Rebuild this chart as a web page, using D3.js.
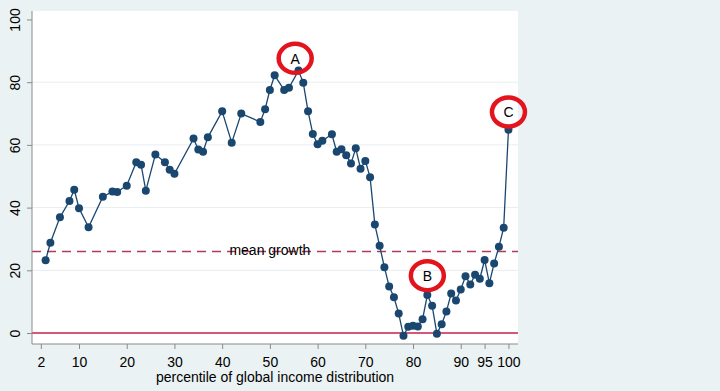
<!DOCTYPE html>
<html>
<head>
<meta charset="utf-8">
<script src="https://cdn.jsdelivr.net/npm/d3@7"></script>
<style>
	html, body { margin: 0; padding: 0; background: #eaf2f3; }
	svg { display: block; font-family: "Liberation Sans", Arial, sans-serif; }
</style>
</head>
<body>
<div class="chart"></div>
<script>
var percentiles = [3, 4, 6, 8, 9, 10, 12, 15, 17, 18, 20, 22, 23, 24, 26, 28, 29, 30, 34, 35, 36, 37, 40, 42, 44,
	48, 49, 50, 51, 53, 54, 56, 57, 58, 59, 60, 61, 63, 64, 65, 66, 67, 68, 69, 70, 71, 72, 73, 74, 75, 76, 77,
	78, 79, 80, 81, 82, 83, 84, 85, 86, 87, 88, 89, 90, 91, 92, 93, 94, 95, 96, 97, 98, 99, 100];
var growth = [23.2, 28.8, 36.9, 42.1, 45.7, 39.8, 33.7, 43.5, 45.1, 45.0, 47.0, 54.5, 53.7, 45.4, 56.9, 54.5, 52.1, 50.8, 62.0, 58.5, 57.8, 62.4, 70.7, 60.7, 70.0,
	67.3, 71.4, 77.5, 82.2, 77.5, 78.2, 83.7, 79.8, 70.7, 63.5, 60.2, 61.3, 63.4, 57.8, 58.6, 56.7, 54.1, 58.9, 52.4, 54.9, 49.7, 34.6, 27.8, 21.0, 14.8, 11.4, 6.2,
	-0.9, 2.0, 2.3, 2.1, 4.4, 12.1, 8.7, -0.2, 2.8, 6.9, 12.6, 10.4, 13.9, 18.1, 15.5, 18.6, 17.3, 23.3, 15.9, 22.2, 27.5, 33.6, 64.8];

var meanGrowth = 26;
var meanLabel = "mean growth";
var meanLabelX = 50;

// annotation letters and where their circles sit
var noteLabels = ["A", "B", "C"];
var noteX = [55.3, 83, 100];
var noteY = [87.6, 18.3, 70.5];

var xTicks = [2, 10, 20, 30, 40, 50, 60, 70, 80, 90, 95, 100];
var yTicks = [0, 20, 40, 60, 80, 100];
var yGrid = [20, 40, 60, 80];
var xTitle = "percentile of global income distribution";

var width = 720, height = 391;
var plot = { left: 32, right: 518, top: 11, bottom: 344 };
var fontSize = "14px";

var svg = d3.select(".chart")
	.append("svg")
	.attr("width", width)
	.attr("height", height);

// Outer background and white plot region
svg.append("rect")
	.attr("width", width)
	.attr("height", height)
	.attr("fill", "#eaf2f3");

svg.append("rect")
	.attr("x", plot.left)
	.attr("y", plot.top)
	.attr("width", plot.right - plot.left)
	.attr("height", plot.bottom - plot.top)
	.attr("fill", "#ffffff");

var xScale = d3.scaleLinear()
	.domain([0, 102])
	.range([31.3, plot.right]);

var yScale = d3.scaleLinear()
	.domain([-3.5, 102.7])
	.range([plot.bottom, plot.top]);

// Grid lines
svg.append("g")
	.selectAll("line")
	.data(yGrid)
	.enter()
	.append("line")
	.attr("x1", plot.left)
	.attr("x2", plot.right)
	.attr("y1", function(d){ return yScale(d); })
	.attr("y2", function(d){ return yScale(d); })
	.attr("stroke", "#e6edf0")
	.attr("stroke-width", 1);

// Zero line
svg.append("line")
	.attr("x1", plot.left)
	.attr("x2", plot.right)
	.attr("y1", yScale(0))
	.attr("y2", yScale(0))
	.attr("stroke", "#c8204a")
	.attr("stroke-width", 1.5);

// Mean growth line and its label
svg.append("line")
	.attr("x1", plot.left)
	.attr("x2", plot.right)
	.attr("y1", yScale(meanGrowth))
	.attr("y2", yScale(meanGrowth))
	.attr("stroke", "#b03a5b")
	.attr("stroke-width", 1.5)
	.attr("stroke-dasharray", "9,6");

svg.append("text")
	.attr("x", xScale(meanLabelX))
	.attr("y", yScale(meanGrowth) + 3.8)
	.attr("text-anchor", "middle")
	.style("font-size", fontSize)
	.attr("fill", "#000")
	.text(meanLabel);

// Axes
var xAxis = d3.axisBottom(xScale)
	.tickValues(xTicks)
	.tickSize(5)
	.tickSizeOuter(0)
	.tickPadding(8);

var yAxis = d3.axisLeft(yScale)
	.tickValues(yTicks)
	.tickSize(5)
	.tickSizeOuter(0);

var xAxisG = svg.append("g")
	.attr("transform", "translate(0," + plot.bottom + ")")
	.call(xAxis);

var yAxisG = svg.append("g")
	.attr("transform", "translate(" + plot.left + ",0)")
	.call(yAxis);

xAxisG.select(".domain").attr("d", "M" + plot.left + ",0H" + plot.right);
yAxisG.select(".domain").attr("d", "M0," + plot.top + "V" + plot.bottom);

[xAxisG, yAxisG].forEach(function(g){
	g.selectAll(".domain, .tick line").attr("stroke", "#8a8a8a");
	g.selectAll("text")
		.attr("fill", "#000")
		.style("font-size", fontSize)
		.style("font-family", "'Liberation Sans', Arial, sans-serif");
});

// Rotated y tick labels
yAxisG.selectAll("text")
	.attr("x", 0)
	.attr("y", -12)
	.attr("dy", 0)
	.attr("text-anchor", "middle")
	.attr("transform", "rotate(-90)");

// X axis title
svg.append("text")
	.attr("x", (plot.left + plot.right) / 2)
	.attr("y", 381.5)
	.attr("text-anchor", "middle")
	.style("font-size", fontSize)
	.text(xTitle);

// Connected series
var points = percentiles.map(function(p, i){ return { x: p, y: growth[i] }; });

var line = d3.line()
	.x(function(d){ return xScale(d.x); })
	.y(function(d){ return yScale(d.y); });

svg.append("path")
	.datum(points)
	.attr("d", line)
	.attr("fill", "none")
	.attr("stroke", "#1a476f")
	.attr("stroke-width", 1.3);

svg.append("g")
	.selectAll("circle")
	.data(points)
	.enter()
	.append("circle")
	.attr("cx", function(d){ return xScale(d.x); })
	.attr("cy", function(d){ return yScale(d.y); })
	.attr("r", 4)
	.attr("fill", "#1a476f");

// Annotation rings
var notes = noteLabels.map(function(l, i){ return { label: l, x: noteX[i], y: noteY[i] }; });

var noteG = svg.append("g")
	.selectAll("g")
	.data(notes)
	.enter()
	.append("g")
	.attr("transform", function(d){ return "translate(" + xScale(d.x) + "," + yScale(d.y) + ")"; });

noteG.append("ellipse")
	.attr("rx", 16.5)
	.attr("ry", 14.5)
	.attr("fill", "none")
	.attr("stroke", "#e3141e")
	.attr("stroke-width", 4.5);

noteG.append("text")
	.attr("y", 5.5)
	.attr("text-anchor", "middle")
	.style("font-size", fontSize)
	.text(function(d){ return d.label; });
</script>
</body>
</html>
